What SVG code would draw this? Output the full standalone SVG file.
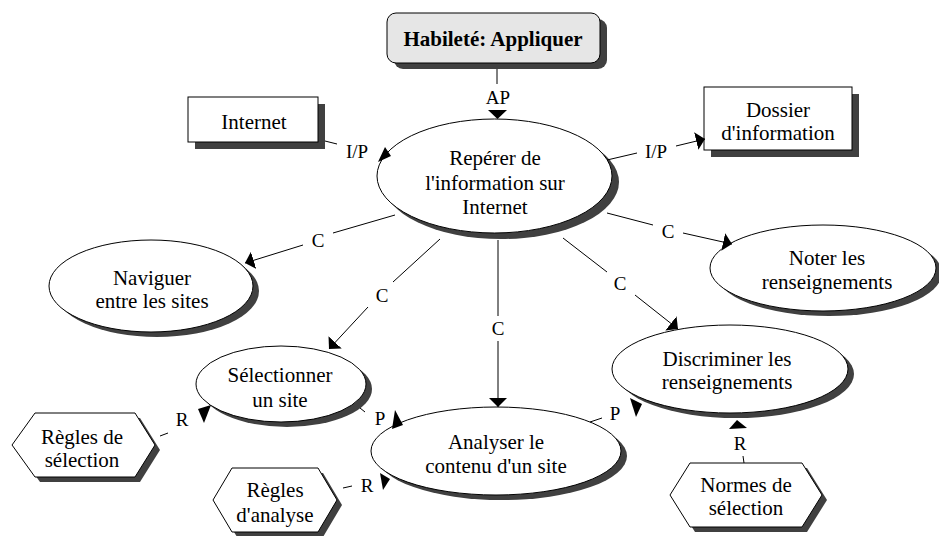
<svg xmlns="http://www.w3.org/2000/svg" width="939" height="536" viewBox="0 0 939 536">
<style>
text{font-family:"Liberation Serif","Times New Roman",serif;fill:#000;text-anchor:middle}
.t{font-size:21px}
.b{font-size:21px;font-weight:bold}
.l{font-size:19px}
.sh{fill:#404040;stroke:none}
.n{fill:#fff;stroke:#000;stroke-width:1}
.c line{stroke:#000;stroke-width:1}
.ah{fill:#000;stroke:none}
</style>
<defs>
<marker id="arr" markerUnits="userSpaceOnUse" markerWidth="10" markerHeight="18" refX="9" refY="9" orient="auto"><path d="M0,0 L9,9 L0,18 z" fill="#000"/></marker>
</defs>
<rect width="939" height="536" fill="#fff"/>
<g id="habilete">
<rect class="sh" x="394" y="19" width="213" height="50" rx="9"/>
<rect x="387" y="13" width="213" height="50" rx="9" fill="#e6e6e6" stroke="#000"/>
<text class="b" x="493" y="46">Habileté: Appliquer</text>
</g>
<g id="internet">
<rect class="sh" x="195" y="104" width="130" height="45"/>
<rect class="n" x="188" y="97" width="130" height="45"/>
<text class="t" x="254" y="129">Internet</text>
</g>
<g id="dossier">
<rect class="sh" x="711" y="94" width="148" height="63"/>
<rect class="n" x="704" y="87" width="148" height="63"/>
<text class="t" x="778" y="117">Dossier</text>
<text class="t" x="778" y="140">d'information</text>
</g>
<g id="reperer">
<ellipse class="sh" cx="501" cy="182" rx="118" ry="57"/>
<ellipse class="n" cx="494.5" cy="176" rx="117.5" ry="57"/>
<text class="t" x="495" y="165">Repérer de</text>
<text class="t" x="495" y="190">l'information sur</text>
<text class="t" x="495" y="214">Internet</text>
</g>
<g id="naviguer">
<ellipse class="sh" cx="157" cy="291" rx="102" ry="46"/>
<ellipse class="n" cx="151" cy="286" rx="102" ry="46"/>
<text class="t" x="152" y="285">Naviguer</text>
<text class="t" x="152" y="308">entre les sites</text>
</g>
<g id="noter">
<ellipse class="sh" cx="829" cy="273" rx="113" ry="43"/>
<ellipse class="n" cx="823" cy="268" rx="113" ry="43"/>
<text class="t" x="827" y="265">Noter les</text>
<text class="t" x="827" y="289">renseignements</text>
</g>
<g id="selectionner">
<ellipse class="sh" cx="287" cy="389" rx="85" ry="38"/>
<ellipse class="n" cx="281" cy="384" rx="85" ry="38"/>
<text class="t" x="280" y="382">Sélectionner</text>
<text class="t" x="280" y="407">un site</text>
</g>
<g id="analyser">
<ellipse class="sh" cx="502" cy="456" rx="125" ry="44"/>
<ellipse class="n" cx="496" cy="451" rx="125" ry="44"/>
<text class="t" x="496" y="449">Analyser le</text>
<text class="t" x="496" y="473">contenu d'un site</text>
</g>
<g id="discriminer">
<ellipse class="sh" cx="736" cy="374" rx="118" ry="44"/>
<ellipse class="n" cx="730" cy="369" rx="118" ry="44"/>
<text class="t" x="727" y="366">Discriminer les</text>
<text class="t" x="727" y="389">renseignements</text>
</g>
<g id="regles-selection">
<polygon class="sh" points="17,450 40,418 140,418 160,450 140,482 40,482"/>
<polygon class="n" points="12,445 35,413 135,413 155,445 135,477 35,477"/>
<text class="t" x="82" y="444">Règles de</text>
<text class="t" x="82" y="467">sélection</text>
</g>
<g id="regles-analyse">
<polygon class="sh" points="218,505 237,473 323,473 342,505 323,537 237,537"/>
<polygon class="n" points="213,500 232,468 318,468 337,500 318,532 232,532"/>
<text class="t" x="275" y="497">Règles</text>
<text class="t" x="275" y="522">d'analyse</text>
</g>
<g id="normes">
<polygon class="sh" points="675,500 695,468 807,468 827,500 807,532 695,532"/>
<polygon class="n" points="670,495 690,463 802,463 822,495 802,527 690,527"/>
<text class="t" x="746" y="492">Normes de</text>
<text class="t" x="746" y="515">sélection</text>
</g>
<g id="connectors" class="c">
<line x1="497" y1="69" x2="497" y2="84"/>
<text class="l" x="498" y="104">AP</text>
<polygon class="ah" points="488,110 507,110 497.5,119"/>
<line x1="325" y1="141" x2="337" y2="144"/>
<text class="l" x="357" y="158">I/P</text>
<polygon class="ah" points="378,162 385,147 391,156"/>
<line x1="607" y1="160" x2="637" y2="153"/>
<text class="l" x="656" y="158">I/P</text>
<line x1="676" y1="146" x2="705" y2="139" marker-end="url(#arr)"/>
<line x1="395" y1="215" x2="333" y2="233"/>
<text class="l" x="318" y="247">C</text>
<line x1="303" y1="245" x2="245" y2="263" marker-end="url(#arr)"/>
<line x1="440" y1="239" x2="393" y2="282"/>
<text class="l" x="382" y="302">C</text>
<line x1="368" y1="307" x2="329" y2="349" marker-end="url(#arr)"/>
<line x1="498" y1="240" x2="498" y2="316"/>
<text class="l" x="498" y="335">C</text>
<line x1="498" y1="341" x2="498" y2="407" marker-end="url(#arr)"/>
<line x1="563" y1="238" x2="607" y2="272"/>
<text class="l" x="620" y="290">C</text>
<line x1="635" y1="295" x2="678" y2="329" marker-end="url(#arr)"/>
<line x1="607" y1="213" x2="653" y2="225"/>
<text class="l" x="668" y="238">C</text>
<line x1="683" y1="233" x2="732" y2="244" marker-end="url(#arr)"/>
<line x1="160" y1="436" x2="168" y2="433"/>
<text class="l" x="182" y="426">R</text>
<polygon class="ah" points="198,409 211,405 204,423"/>
<line x1="360" y1="408" x2="365" y2="412"/>
<text class="l" x="380" y="425">P</text>
<polygon class="ah" points="395,410 392,429 403,425"/>
<line x1="590" y1="422" x2="602" y2="418"/>
<text class="l" x="615" y="420">P</text>
<polygon class="ah" points="630,398 642,404 636,417"/>
<line x1="343" y1="488" x2="352" y2="486"/>
<text class="l" x="367" y="492">R</text>
<polygon class="ah" points="380,473 390,479 383,490"/>
<line x1="744" y1="463" x2="743" y2="456"/>
<text class="l" x="740" y="450">R</text>
<polygon class="ah" points="737,420 729,429 747,428"/>
</g>
</svg>
